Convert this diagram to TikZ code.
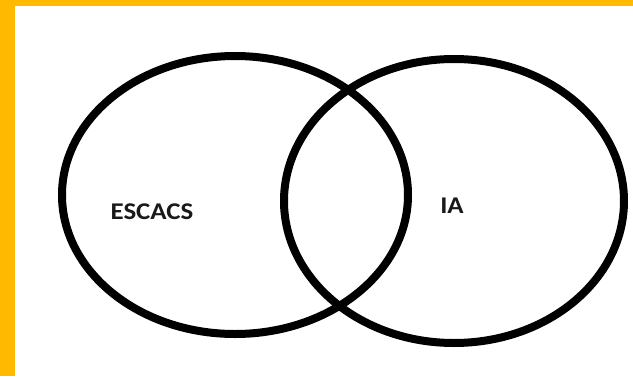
\documentclass[tikz,border=0pt]{standalone}
\usepackage{fontspec}
\setmainfont{Carlito}
\definecolor{frame}{HTML}{FFB900}
\begin{document}
\begin{tikzpicture}[x=1pt,y=-1pt,
  ring/.style={draw=black,line width=8pt},
  lbl/.style={font=\fontsize{24}{28}\selectfont\bfseries,text=black!90,xscale=1.12}]
\useasboundingbox (0,0) rectangle (633,376);
\fill[white] (0,0) rectangle (633,376);
\fill[frame] (0,0) rectangle (633,6);
\fill[frame] (0,0) rectangle (15,376);
\draw[ring] (235,195) ellipse [x radius=173, y radius=139];
\draw[ring] (454,201) ellipse [x radius=170, y radius=142];
\node[lbl] (escacs) at (152,212) {ESCACS};
\node[lbl] (ia) at (452,206) {IA};
\end{tikzpicture}
\end{document}
